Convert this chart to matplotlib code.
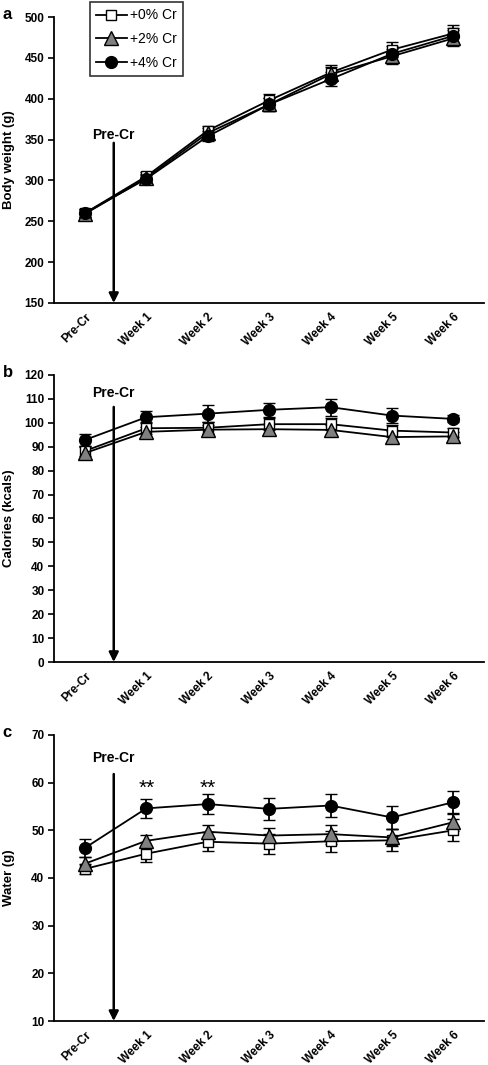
import matplotlib
matplotlib.use("Agg")
import matplotlib.pyplot as plt
import matplotlib.transforms as mtransforms
from matplotlib.lines import Line2D

plt.rcParams['font.family'] = ['Liberation Sans', 'DejaVu Sans']

weeks = ["Pre-Cr", "Week 1", "Week 2", "Week 3", "Week 4", "Week 5", "Week 6"]
groups = ["+0% Cr", "+2% Cr", "+4% Cr"]

# body weight (g)
bw_0 = [260, 305, 361, 398, 432, 460, 480]
bw_2 = [259, 303, 358, 393, 430, 452, 474]
bw_4 = [260, 302, 354, 393, 424, 455, 477]
bw_err_0 = [5, 5, 6, 8, 9, 9, 10]
bw_err_2 = [5, 5, 6, 8, 9, 9, 10]
bw_err_4 = [5, 5, 6, 8, 9, 9, 10]

# calories (kcals)
cal_0 = [88.2, 97.7, 97.9, 99.4, 99.4, 96.7, 95.9]
cal_2 = [87.3, 96.2, 97.1, 97.3, 97.0, 94.0, 94.3]
cal_4 = [92.8, 102.3, 103.8, 105.4, 106.5, 103.0, 101.6]
cal_err_0 = [2.0, 2.5, 2.5, 2.5, 2.5, 2.5, 2.0]
cal_err_2 = [2.5, 2.0, 2.0, 2.0, 2.0, 2.5, 2.0]
cal_err_4 = [2.5, 2.5, 3.5, 3.0, 3.5, 3.0, 1.5]

# water (g)
wat_0 = [41.9, 45.1, 47.6, 47.2, 47.7, 47.9, 50.0]
wat_2 = [43.0, 47.8, 49.7, 48.9, 49.2, 48.5, 51.7]
wat_4 = [46.3, 54.6, 55.5, 54.5, 55.2, 52.7, 55.9]
wat_err_0 = [1.0, 1.7, 2.0, 2.1, 2.2, 2.3, 2.3]
wat_err_2 = [1.5, 1.3, 1.5, 1.6, 2.0, 1.8, 1.8]
wat_err_4 = [1.8, 2.0, 2.1, 2.3, 2.5, 2.5, 2.3]
star_weeks = [1, 2]
star_y = 58.8

styles = [
    dict(marker="s", mfc="white", mec="black", ms=7.5),
    dict(marker="^", mfc="#808080", mec="black", ms=9.5),
    dict(marker="o", mfc="black", mec="black", ms=8.5),
]

fig = plt.figure(figsize=(4.88, 10.65), dpi=100)
boxes = [
    [0.111, 0.7155, 0.881, 0.2685],
    [0.111, 0.3784, 0.881, 0.2696],
    [0.111, 0.0413, 0.881, 0.2686],
]
panels = [
    ("a", "Body weight (g)", (bw_0, bw_2, bw_4), (bw_err_0, bw_err_2, bw_err_4),
     (150, 500), range(150, 501, 50), 346, 356),
    ("b", "Calories (kcals)", (cal_0, cal_2, cal_4), (cal_err_0, cal_err_2, cal_err_4),
     (0, 120), range(0, 121, 10), 106.6, 112.5),
    ("c", "Water (g)", (wat_0, wat_2, wat_4), (wat_err_0, wat_err_2, wat_err_4),
     (10, 70), range(10, 71, 10), 61.8, 65.2),
]

x = list(range(len(weeks)))
for box, (letter, ylabel, series, errs, ylim, yticks, arrow_top, text_y) in zip(boxes, panels):
    ax = fig.add_axes(box)
    for vals, err, st in zip(series, errs, styles):
        ax.errorbar(x, vals, yerr=err, color="black", lw=1.3, elinewidth=1.3,
                    capsize=4.5, capthick=1.3, mew=1.0, clip_on=False, **st)
    ax.set_xlim(-0.5, 6.5)
    ax.set_ylim(*ylim)
    ax.set_yticks(list(yticks))
    ax.set_xticks(x)
    ax.set_xticklabels(weeks, rotation=45, ha="right", rotation_mode="anchor",
                       fontsize=8.5, fontweight="bold")
    offset = mtransforms.ScaledTranslation(5 / 72, 0, fig.dpi_scale_trans)
    for lab in ax.get_xticklabels():
        lab.set_transform(lab.get_transform() + offset)
    ax.tick_params(axis="x", length=0, pad=6)
    ax.tick_params(axis="y", direction="out", length=4, width=1.2, labelsize=8.5, pad=3)
    for lab in ax.get_yticklabels():
        lab.set_fontweight("bold")
    for s in ["top", "right"]:
        ax.spines[s].set_visible(False)
    for s in ["left", "bottom"]:
        ax.spines[s].set_linewidth(1.3)
    ax.set_ylabel(ylabel, fontsize=9.5, fontweight="bold")
    ax.yaxis.set_label_coords(-0.09, 0.5)

    ax.annotate("", xy=(0.47, ylim[0]), xytext=(0.47, arrow_top),
                arrowprops=dict(arrowstyle="-|>", color="black", lw=1.8,
                                mutation_scale=14, shrinkA=0, shrinkB=0))
    ax.text(0.47, text_y, "Pre-Cr", ha="center", va="center", fontsize=10, fontweight="bold")

    fig.text(0.005, box[1] + box[3] + 0.002, letter, fontsize=12, fontweight="bold",
             ha="left", va="center")

    if letter == "a":
        handles = [Line2D([], [], color="black", lw=1.3, mew=1.0, **st) for st in styles]
        leg = ax.legend(handles, groups, loc="upper left", bbox_to_anchor=(0.184, 0.998),
                        bbox_transform=fig.transFigure, frameon=True, fancybox=False,
                        edgecolor="black", fontsize=10, handlelength=2.2, handletextpad=0.25,
                        borderpad=0.45, labelspacing=0.7, borderaxespad=0)
        leg.get_frame().set_linewidth(1.2)
    if letter == "c":
        for w in star_weeks:
            ax.text(w, star_y, "**", ha="center", va="center", fontsize=15)

fig.savefig("out.png", dpi=100)
